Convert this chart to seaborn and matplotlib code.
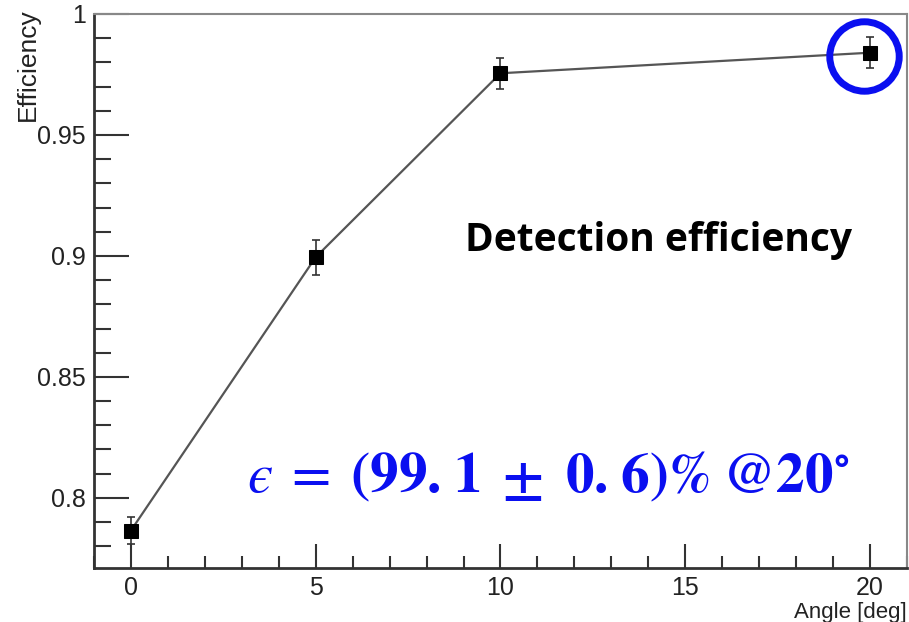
import matplotlib
matplotlib.use("Agg")
import matplotlib.pyplot as plt
import matplotlib.transforms as mtransforms
from matplotlib.ticker import MultipleLocator
import seaborn as sns
import pandas as pd

# ---- data ----
angles = [0, 5, 10, 20]
efficiency = [0.7865, 0.8995, 0.9755, 0.9840]
eff_err = [0.0055, 0.0072, 0.0064, 0.0063]
xticks = [0, 5, 10, 15, 20]
yticks = [0.80, 0.85, 0.90, 0.95, 1.00]
ytick_labels = ["0.8", "0.85", "0.9", "0.95", "1"]
xlabel = "Angle [deg]"
ylabel = "Efficiency"
title_text = "Detection efficiency"
result_text = "$\u03f5\\;=\\;\\mathbf{(99.\\!\\;1\\;\\pm\\;0.\\!\\;6)\\%\\;@20^{\\circ}}$"

df = pd.DataFrame({"angle": angles, "eff": efficiency, "err": eff_err})

sns.set_style("white")
plt.rcParams["font.family"] = ["Liberation Sans", "DejaVu Sans"]
plt.rcParams["mathtext.fontset"] = "stix"

fig = plt.figure(figsize=(9.09, 6.22), dpi=100)
ax = fig.add_axes([0.1034, 0.0868, 0.8944, 0.8907])

sns.lineplot(data=df, x="angle", y="eff", ax=ax, color="#555555", linewidth=1.6,
             marker="s", markersize=10, markerfacecolor="black",
             markeredgecolor="black", zorder=3)
ax.errorbar(df["angle"], df["eff"], yerr=df["err"], fmt="none", ecolor="#333333",
            elinewidth=1.2, capsize=3, capthick=1.2, zorder=2)

ax.set_xlim(-1, 21)
ax.set_ylim(0.771, 1.0)
ax.set_xticks(xticks)
ax.set_yticks(yticks)
ax.set_yticklabels(ytick_labels)
ax.xaxis.set_minor_locator(MultipleLocator(1))
ax.yaxis.set_minor_locator(MultipleLocator(0.01))
ax.tick_params(axis="both", which="both", bottom=True, left=True, top=False, right=False)
ax.tick_params(axis="both", which="major", direction="in", length=17, width=1.5,
               labelsize=18, colors="#333333", labelcolor="#222222")
ax.tick_params(axis="y", which="major", length=25, pad=6)
ax.tick_params(axis="x", which="major", pad=6)
ax.tick_params(axis="both", which="minor", direction="in", length=9, width=1.5,
               colors="#333333")
ax.tick_params(axis="y", which="minor", length=12)

for side in ["left", "bottom"]:
    ax.spines[side].set_color("#333333")
    ax.spines[side].set_linewidth(2)
for side in ["top", "right"]:
    ax.spines[side].set_color("#888888")
    ax.spines[side].set_linewidth(1.5)

ax.set_xlabel(xlabel, fontsize=16, color="#222222")
ax.xaxis.set_label_coords(1.0, -0.062)
ax.xaxis.label.set_horizontalalignment("right")
ax.set_ylabel(ylabel, fontsize=19, color="#222222")
ax.yaxis.set_label_coords(-0.066, 1.011)
ax.yaxis.label.set_verticalalignment("bottom")
ax.yaxis.label.set_horizontalalignment("right")

ax.text(0.932, 0.592, title_text, transform=ax.transAxes, fontsize=28,
        fontweight="bold", family=["Open Sans", "DejaVu Sans"], color="black",
        ha="right", va="center")
ax.text(0.93, 0.163, result_text, transform=ax.transAxes, fontsize=41,
        color="#0a0ff0", ha="right", va="center")

# highlight ring around the 20 deg point
off = mtransforms.offset_copy(ax.transData, fig=fig, x=-6, y=-3, units="dots")
ax.plot([angles[-1]], [efficiency[-1]], marker="o", markersize=50,
        markerfacecolor="none", markeredgecolor="#0a0ff0", markeredgewidth=5,
        transform=off, clip_on=False, zorder=5)

fig.savefig("out.png", dpi=100)
